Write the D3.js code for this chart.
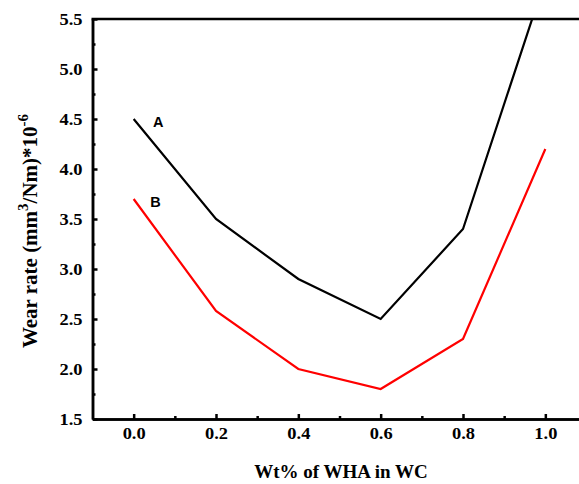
<!DOCTYPE html>
<html><head><meta charset="utf-8">
<script src="https://cdn.jsdelivr.net/npm/d3@7"></script>
<style>body{margin:0;background:#fff}</style>
</head><body>
<svg id="c" width="579" height="484"></svg>
<script>
const xVals = [0.0, 0.2, 0.4, 0.6, 0.8, 1.0];
const seriesA = [4.5, 3.5, 2.9, 2.5, 3.4, 5.9];
const seriesB = [3.7, 2.58, 2.0, 1.8, 2.3, 4.2];
const xTicks = [0.0, 0.2, 0.4, 0.6, 0.8, 1.0];
const yTicks = [1.5, 2.0, 2.5, 3.0, 3.5, 4.0, 4.5, 5.0, 5.5];
const seriesNames = ["A", "B"];

const svg = d3.select("#c");
const x = d3.scaleLinear().domain([-0.1, 1.1]).range([92.5, 586.5]);
const y = d3.scaleLinear().domain([1.5, 5.5]).range([419, 19]);

svg.append("defs").append("clipPath").attr("id","clip")
  .append("rect").attr("x",92.5).attr("y",19).attr("width",500).attr("height",400);

const serif = "'Liberation Serif','Times New Roman',serif";

// lines
const line = d3.line().x((d,i)=>x(xVals[i])).y(d=>y(d));
const g = svg.append("g").attr("clip-path","url(#clip)");
g.append("path").datum(seriesA).attr("d",line).attr("fill","none").attr("stroke","#000").attr("stroke-width",2.2);
g.append("path").datum(seriesB).attr("d",line).attr("fill","none").attr("stroke","#ff0000").attr("stroke-width",2.2);

// axes
const xAxis = svg.append("g").attr("transform","translate(0,419)")
  .call(d3.axisBottom(x).tickValues(xTicks).tickSizeInner(-5).tickSizeOuter(0).tickPadding(0).tickFormat(d3.format(".1f")));
const xMinor = svg.append("g").attr("transform","translate(0,419)")
  .call(d3.axisBottom(x).tickValues([0.1,0.3,0.5,0.7,0.9]).tickSizeInner(-3).tickSizeOuter(0).tickFormat(""));
const yAxis = svg.append("g").attr("transform","translate(92.5,0)")
  .call(d3.axisLeft(y).tickValues(yTicks).tickSizeInner(-5).tickSizeOuter(0).tickPadding(10).tickFormat(d3.format(".1f")));
const yMinor = svg.append("g").attr("transform","translate(92.5,0)")
  .call(d3.axisLeft(y).tickValues([1.75,2.25,2.75,3.25,3.75,4.25,4.75,5.25]).tickSizeInner(-3).tickSizeOuter(0).tickFormat(""));
[xAxis,xMinor,yAxis,yMinor].forEach(a=>{
  a.select(".domain").attr("stroke","#000").attr("stroke-width",2.5);
  a.selectAll(".tick line").attr("stroke","#000").attr("stroke-width",2.5);
  a.selectAll("text").attr("font-family",serif).attr("font-weight","bold").attr("font-size",16).attr("fill","#000")
    .attr("textLength",23).attr("lengthAdjust","spacingAndGlyphs");
});
xAxis.selectAll("text").attr("y",20).attr("dy","0");
yAxis.selectAll("text").attr("dy","0.36em");
// top border
svg.append("line").attr("x1",91.5).attr("x2",579).attr("y1",19).attr("y2",19).attr("stroke","#000").attr("stroke-width",2.5);

// series labels
const labPos = [[0.06,4.42],[0.053,3.62]];
seriesNames.forEach((n,i)=>{
  svg.append("text").attr("x",x(labPos[i][0])).attr("y",y(labPos[i][1])).attr("font-family","'Liberation Sans',Arial,sans-serif")
    .attr("font-weight","bold").attr("font-size",14.5).attr("fill","#000").attr("text-anchor","middle").text(n);
});

// axis titles
svg.append("text").attr("x",341).attr("y",478).attr("text-anchor","middle")
  .attr("font-family",serif).attr("font-weight","bold").attr("font-size",19).text("Wt% of WHA in WC");

const yt = svg.append("text").attr("transform","translate(37,231) rotate(-90)").attr("text-anchor","middle")
  .attr("font-family",serif).attr("font-weight","bold").attr("font-size",21);
yt.append("tspan").text("Wear rate (mm");
yt.append("tspan").attr("dy",-9).attr("font-size",15).text("3");
yt.append("tspan").attr("dy",9).text("/Nm)*10");
yt.append("tspan").attr("dy",-9).attr("font-size",15).text("-6");
</script>
</body></html>
